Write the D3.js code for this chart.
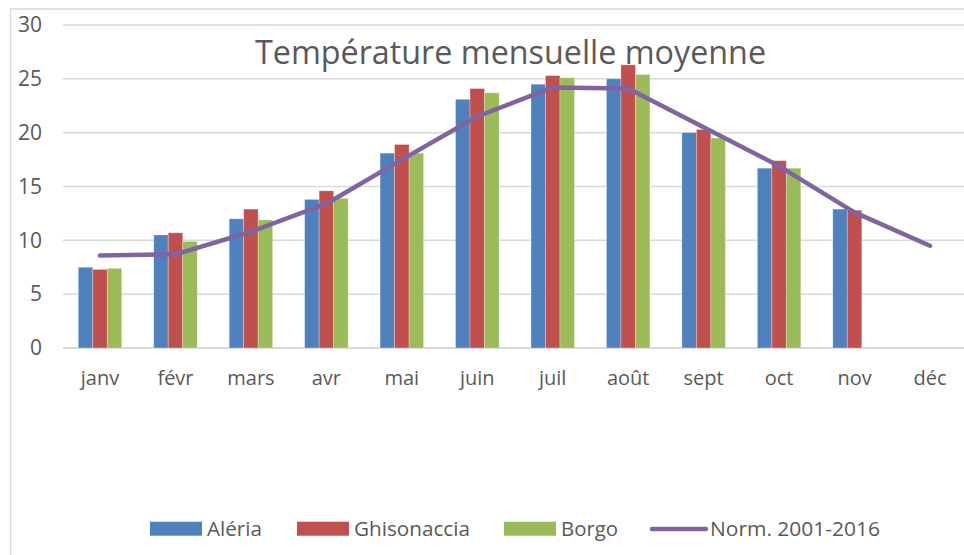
<!DOCTYPE html>
<html>
<head>
<meta charset="utf-8">
<script src="https://cdn.jsdelivr.net/npm/d3@7"></script>
<style>
  body { margin: 0; background: #fff; }
  text { font-family: "Open Sans", sans-serif; fill: #595959; }
</style>
</head>
<body>
<div id="chart"></div>
<script>
//
// Data
//
var months = ["janv", "févr", "mars", "avr", "mai", "juin", "juil", "août", "sept", "oct", "nov", "déc"];
var series = ["Aléria", "Ghisonaccia", "Borgo"];
var aleria      = [7.5, 10.5, 12.0, 13.8, 18.1, 23.1, 24.5, 25.0, 20.0, 16.7, 12.9, null];
var ghisonaccia = [7.3, 10.7, 12.9, 14.6, 18.9, 24.1, 25.3, 26.3, 20.3, 17.4, 12.8, null];
var borgo       = [7.4, 9.9, 11.9, 13.9, 18.1, 23.7, 25.1, 25.4, 19.5, 16.7, null, null];
var normName = "Norm. 2001-2016";
var norm = [8.6, 8.7, 10.8, 13.4, 17.5, 21.5, 24.2, 24.1, 20.5, 16.9, 12.6, 9.5];
var yTicks = [0, 5, 10, 15, 20, 25, 30];
var title = "Température mensuelle moyenne";

var colors = ["#4F81BD", "#C0504D", "#9BBB59"];
var lineColor = "#8064A2";

var W = 964, H = 555;
var plot = {left: 62.3, right: 967.7, top: 25, bottom: 348};

var svg = d3.select("#chart").append("svg")
  .attr("width", W)
  .attr("height", H);

// chart frame (only top and left edges fall inside the picture)
svg.append("rect")
  .attr("x", 10.5).attr("y", 9)
  .attr("width", W + 20).attr("height", H + 20)
  .attr("fill", "none")
  .attr("stroke", "#d9d9d9")
  .attr("stroke-width", 1.5);

var x = d3.scaleBand()
  .domain(months)
  .range([plot.left, plot.right])
  .paddingInner(0.424)
  .paddingOuter(0.212);

var x1 = d3.scaleBand()
  .domain(series)
  .range([0, x.bandwidth()]);

var y = d3.scaleLinear()
  .domain([0, 30])
  .range([plot.bottom, plot.top]);

// gridlines
svg.append("g").selectAll("line")
  .data(yTicks)
  .enter().append("line")
  .attr("x1", 63).attr("x2", W)
  .attr("y1", function(d) { return y(d); })
  .attr("y2", function(d) { return y(d); })
  .attr("stroke", "#d9d9d9")
  .attr("stroke-width", function(d) { return d === 0 ? 2 : 1.5; });

// y labels
svg.append("g").selectAll("text")
  .data(yTicks)
  .enter().append("text")
  .attr("x", 42)
  .attr("y", function(d) { return y(d) + 7.3; })
  .attr("text-anchor", "end")
  .style("font-size", "21px")
  .text(function(d) { return d; });

// x labels
svg.append("g").selectAll("text")
  .data(months)
  .enter().append("text")
  .attr("x", function(d) { return x(d) + x.bandwidth() / 2; })
  .attr("y", 385)
  .attr("text-anchor", "middle")
  .style("font-size", "20px")
  .text(function(d) { return d; });

// bars
var values = [aleria, ghisonaccia, borgo];
var barData = [];
values.forEach(function(vals, s) {
  vals.forEach(function(v, i) {
    if (v != null) barData.push({month: months[i], series: series[s], s: s, v: v});
  });
});

svg.append("g").selectAll("rect")
  .data(barData)
  .enter().append("rect")
  .attr("x", function(d) { return x(d.month) + x1(d.series); })
  .attr("y", function(d) { return y(d.v); })
  .attr("width", x1.bandwidth())
  .attr("height", function(d) { return y(0) - y(d.v); })
  .attr("fill", function(d) { return colors[d.s]; })
  .attr("stroke", "#ffffff")
  .attr("stroke-opacity", 0.35)
  .attr("stroke-width", 0.8);

// norm line
var line = d3.line()
  .x(function(d, i) { return x(months[i]) + x.bandwidth() / 2; })
  .y(function(d) { return y(d); });

svg.append("path")
  .datum(norm)
  .attr("d", line)
  .attr("fill", "none")
  .attr("stroke", lineColor)
  .attr("stroke-width", 4.5)
  .attr("stroke-linecap", "round")
  .attr("stroke-linejoin", "round");

// title
svg.append("text")
  .attr("x", 255)
  .attr("y", 64)
  .attr("textLength", 511)
  .attr("lengthAdjust", "spacingAndGlyphs")
  .style("font-size", "32px")
  .text(title);

// legend
var legendItems = [
  {name: series[0], color: colors[0], type: "rect", sx: 150, tx: 207, tw: 55},
  {name: series[1], color: colors[1], type: "rect", sx: 297, tx: 354, tw: 116},
  {name: series[2], color: colors[2], type: "rect", sx: 504, tx: 561, tw: 57},
  {name: normName, color: lineColor, type: "line", sx: 652, tx: 710, tw: 170}
];

var legend = svg.append("g");
legendItems.forEach(function(d) {
  if (d.type === "rect") {
    legend.append("rect")
      .attr("x", d.sx).attr("y", 521.7)
      .attr("width", 52).attr("height", 14)
      .attr("fill", d.color);
  } else {
    legend.append("line")
      .attr("x1", d.sx).attr("x2", d.sx + 54)
      .attr("y1", 529).attr("y2", 529)
      .attr("stroke", d.color)
      .attr("stroke-width", 4.5)
      .attr("stroke-linecap", "round");
  }
  legend.append("text")
    .attr("x", d.tx)
    .attr("y", 535.5)
    .attr("textLength", d.tw)
    .attr("lengthAdjust", "spacingAndGlyphs")
    .style("font-size", "20px")
    .text(d.name);
});
</script>
</body>
</html>
